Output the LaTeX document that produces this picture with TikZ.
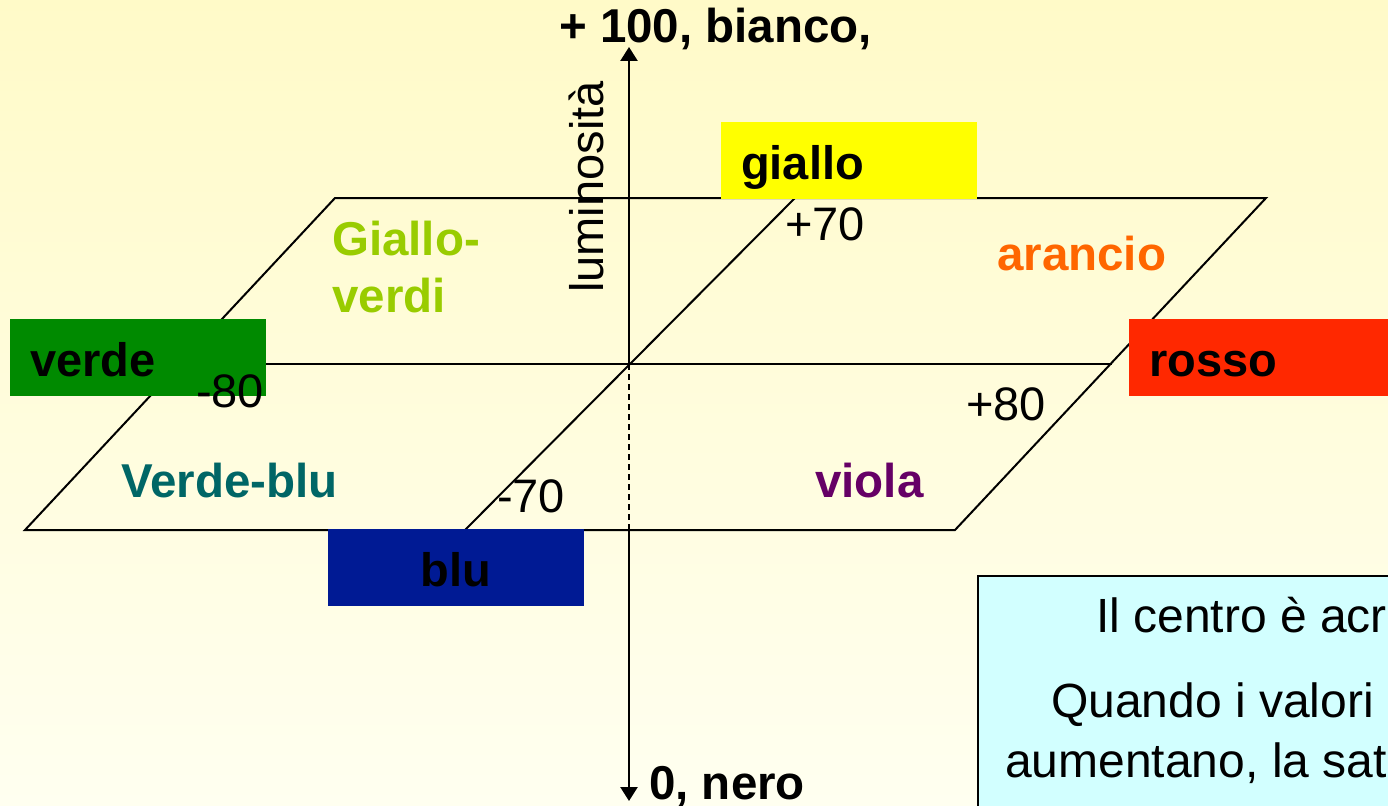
\documentclass[tikz,border=0pt]{standalone}
\usepackage{fontspec}
\setmainfont{Liberation Sans}
\usetikzlibrary{arrows.meta}
\definecolor{bgtop}{RGB}{255,250,200}
\definecolor{bgbot}{RGB}{255,255,240}
\definecolor{cgiallo}{RGB}{255,255,0}
\definecolor{cverde}{RGB}{0,138,0}
\definecolor{crosso}{RGB}{255,40,0}
\definecolor{cblu}{RGB}{0,26,148}
\definecolor{tgverdi}{RGB}{153,204,0}
\definecolor{tarancio}{RGB}{255,102,0}
\definecolor{tverdeblu}{RGB}{0,102,102}
\definecolor{tviola}{RGB}{102,0,102}
\definecolor{infofill}{RGB}{210,255,255}
\tikzset{
  lab/.style={inner sep=0pt, font=\fontsize{47}{57}\selectfont},
  blab/.style={inner sep=0pt, font=\fontsize{47.5}{57}\selectfont\bfseries},
  infotext/.style={inner sep=0pt, font=\fontsize{48}{58}\selectfont, anchor=base west},
  planeline/.style={line width=2pt, line join=miter},
  axisline/.style={line width=2.5pt},
  tipaxis/.style={-{Triangle[length=14pt,width=17pt]}},
  cbox/.style={rectangle, inner xsep=20pt, inner ysep=0pt, minimum height=77pt,
    text width=216pt, text height=38pt, text depth=0pt, anchor=north west,
    align=left, font=\fontsize{47}{57}\selectfont\bfseries, text=black},
}
\begin{document}
\begin{tikzpicture}[x=1pt,y=-1pt]
\useasboundingbox (0,0) rectangle (1388,805);
\clip (0,0) rectangle (1388,805);
\shade[top color=bgtop, bottom color=bgbot] (0,0) rectangle (1388,805);

% plane corners and axis points
\coordinate (p1) at (335,198);
\coordinate (p2) at (1266,198);
\coordinate (p3) at (955,530);
\coordinate (p4) at (25,530);
\coordinate (O) at (629,364);
\coordinate (hL) at (180,364);
\coordinate (hR) at (1112,364);
\coordinate (dB) at (465,530);
\coordinate (dT) at (795,198);
\coordinate (zT) at (629,47);
\coordinate (zM) at (629,530);
\coordinate (zB) at (629,801);

% plane
\draw[planeline] (p1) -- (p2) -- (p3) -- (p4) -- cycle;
\draw[planeline] (hL) -- (hR);
\draw[planeline] (dB) -- (dT);

% vertical axis
\draw[axisline, tipaxis] (O) -- (zT);
\draw[axisline, dash pattern=on 6pt off 4pt] (O) -- (zM);
\draw[axisline, tipaxis] (zM) -- (zB);

% colour boxes
\node[cbox, fill=cgiallo] (giallo) at (721,122) {giallo};
\node[cbox, fill=cverde] (verde) at (10,319) {verde};
\node[cbox, fill=crosso, text width=300pt] (rosso) at (1129,319) {rosso};
\node[cbox, fill=cblu, align=center] (blu) at (328,529) {blu};

% axis labels
\node[blab, anchor=base west] (bianco) at (559,43) {+ 100, bianco,};
\node[blab, anchor=base west] (nero) at (649,799) {0, nero};
\node[lab, anchor=base west, rotate=90] (lum) at (603,293) {luminosità};

% numbers
\node[lab, anchor=base west] (m80) at (196,407) {-80};
\node[lab, anchor=base west] (p80) at (966,420) {+80};
\node[lab, anchor=base west] (p70) at (785,240) {+70};
\node[lab, anchor=base west] (m70) at (497,512) {-70};

% hue labels
\node[blab, text=tgverdi, anchor=north west, align=left] (gv) at (332,221) {Giallo-\\verdi};
\node[blab, text=tarancio, anchor=base west] (arancio) at (997,270) {arancio};
\node[blab, text=tverdeblu, anchor=base west] (vb) at (121,497) {Verde-blu};
\node[blab, text=tviola, anchor=base west] (viola) at (815,497) {viola};

% info box
\draw[line width=1.5pt, fill=infofill] (978,576) rectangle (1420,840);
\node[infotext] (info1) at (1096,632) {Il centro è acr};
\node[infotext] (info2) at (1051,717) {Quando i valori};
\node[infotext] (info3) at (1005,777) {aumentano, la sat};
\end{tikzpicture}
\end{document}
